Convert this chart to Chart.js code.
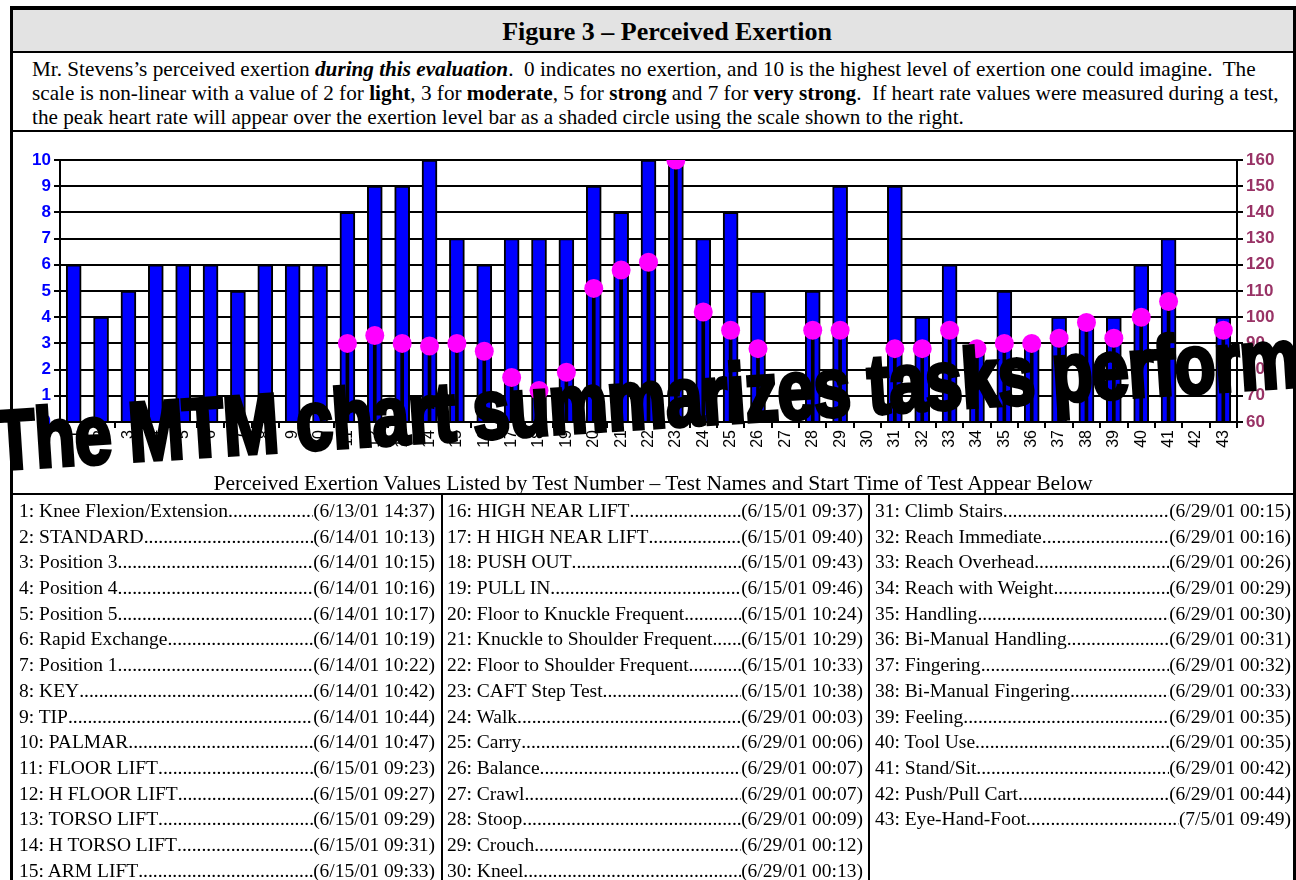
<!DOCTYPE html>
<html>
<head>
<meta charset="utf-8">
<script src="https://cdn.jsdelivr.net/npm/chart.js@4.4.0/dist/chart.umd.min.js"></script>
<style>
  html, body { margin: 0; padding: 0; background: #fff; }
  body { width: 1296px; height: 880px; overflow: hidden; position: relative; font-family: "Liberation Serif", "Times New Roman", serif; }
  #frame { position: absolute; left: 10px; top: 6px; width: 1280px; height: 900px;
           border-left: 3px solid #000; border-right: 3px solid #000; border-top: 4px solid #000; }
  #title { position: absolute; left: 0; top: 0; width: 1280px; height: 43px; background: #e3e3e3;
           border-bottom: 2px solid #000; text-align: center; font-weight: bold; font-size: 26px; line-height: 43px;
           padding-left: 28px; box-sizing: border-box; }
  #desc { position: absolute; left: 0; top: 45px; width: 1280px; height: 77px; border-bottom: 2px solid #000;
          font-size: 21.2px; line-height: 24px; padding-left: 19px; box-sizing: border-box; padding-top: 2px; white-space: nowrap; }
  #desc b { font-family: "Liberation Serif", "Times New Roman", serif; }
  #chartBox { position: absolute; left: 0; top: 124px; width: 1280px; height: 340px; }
  #xTitle { position: absolute; left: 0; top: 461px; width: 1280px; text-align: center; font-size: 21.6px; line-height: 24px; }
  #table { position: absolute; left: 0; top: 483px; width: 1280px; height: 420px; border-top: 2px solid #000; }
  .col { position: absolute; top: 3px; font-size: 19.5px; }
  .row { display: flex; height: 25.7px; line-height: 25.7px; white-space: nowrap; }
  .nm { flex: none; }
  .dots { flex: 1; overflow: hidden; white-space: nowrap; }
  .dt { flex: none; }
  .vline { position: absolute; top: 0; width: 2px; height: 420px; background: #000; }
  #stamp { position: absolute; left: -8px; top: 399px; font-family: "Liberation Sans", Arial, sans-serif;
           font-weight: bold; font-size: 84px; line-height: 1; white-space: nowrap; color: #000;
           -webkit-text-stroke: 4px #000; letter-spacing: -1px;
           transform: rotate(-3.67deg) scaleX(0.795); transform-origin: 0 0; pointer-events: none; z-index: 10; }
</style>
</head>
<body>
<div id="frame">
  <div id="title">Figure 3 – Perceived Exertion</div>
  <div id="desc">Mr. Stevens’s perceived exertion <b><i>during this evaluation</i></b>.&nbsp; 0 indicates no exertion, and 10 is the highest level of exertion one could imagine.&nbsp; The<br>scale is non-linear with a value of 2 for <b>light</b>, 3 for <b>moderate</b>, 5 for <b>strong</b> and 7 for <b>very strong</b>.&nbsp; If heart rate values were measured during a test,<br>the peak heart rate will appear over the exertion level bar as a shaded circle using the scale shown to the right.</div>
  <div id="chartBox"><canvas id="myChart"></canvas></div>
  <div id="xTitle">Perceived Exertion Values Listed by Test Number – Test Names and Start Time of Test Appear Below</div>
  <div id="table">
    <div class="vline" style="left:428px"></div>
    <div class="vline" style="left:855px"></div>
  </div>
</div>
<div id="stamp">The MTM chart summarizes tasks perform</div>

<script>
var testNumbers = ["1","2","3","4","5","6","7","8","9","10","11","12","13","14","15","16","17","18","19","20","21","22",
  "23","24","25","26","27","28","29","30","31","32","33","34","35","36","37","38","39","40","41","42","43"];

// perceived exertion (left axis, 0-10)
var exertion = [6,4,5,6,6,6,5,6,6,6, 8,9,9,10,7,6,7,7,7,9, 8,10,10,7,8,5,0,5,9,0, 9,4,6,3,5,3,4,4,4,6, 7,0,4];

// peak heart rate (right axis, 60-160)
var heartRate = [null,null,null,null,null,null,null,null,null,null,
  90,93,90,89,90,87,77,72,79,111, 118,121,160,102,95,88,null,95,95,null,
  88,88,95,88,90,90,92,98,92,100, 106,null,95];

var testNames = ["Knee Flexion/Extension","STANDARD","Position 3","Position 4","Position 5","Rapid Exchange","Position 1",
  "KEY","TIP","PALMAR","FLOOR LIFT","H FLOOR LIFT","TORSO LIFT","H TORSO LIFT","ARM LIFT",
  "HIGH NEAR LIFT","H HIGH NEAR LIFT","PUSH OUT","PULL IN","Floor to Knuckle Frequent","Knuckle to Shoulder Frequent",
  "Floor to Shoulder Frequent","CAFT Step Test","Walk","Carry","Balance","Crawl","Stoop","Crouch","Kneel",
  "Climb Stairs","Reach Immediate","Reach Overhead","Reach with Weight","Handling","Bi-Manual Handling","Fingering",
  "Bi-Manual Fingering","Feeling","Tool Use","Stand/Sit","Push/Pull Cart","Eye-Hand-Foot"];

var testTimes = ["6/13/01 14:37","6/14/01 10:13","6/14/01 10:15","6/14/01 10:16","6/14/01 10:17","6/14/01 10:19","6/14/01 10:22",
  "6/14/01 10:42","6/14/01 10:44","6/14/01 10:47","6/15/01 09:23","6/15/01 09:27","6/15/01 09:29","6/15/01 09:31","6/15/01 09:33",
  "6/15/01 09:37","6/15/01 09:40","6/15/01 09:43","6/15/01 09:46","6/15/01 10:24","6/15/01 10:29","6/15/01 10:33","6/15/01 10:38",
  "6/29/01 00:03","6/29/01 00:06","6/29/01 00:07","6/29/01 00:07","6/29/01 00:09","6/29/01 00:12","6/29/01 00:13",
  "6/29/01 00:15","6/29/01 00:16","6/29/01 00:26","6/29/01 00:29","6/29/01 00:30","6/29/01 00:31","6/29/01 00:32",
  "6/29/01 00:33","6/29/01 00:35","6/29/01 00:35","6/29/01 00:42","6/29/01 00:44","7/5/01 09:49"];

// build the test list table (3 columns x 15 rows)
var table = document.getElementById('table');
var colX = [6, 434, 862];
var colW = [416, 416, 416];
var dots = new Array(300).join('.');
for (var c = 0; c < 3; c++) {
  var col = document.createElement('div');
  col.className = 'col';
  col.style.left = colX[c] + 'px';
  col.style.width = colW[c] + 'px';
  for (var r = 0; r < 15; r++) {
    var i = c * 15 + r;
    if (i >= testNames.length) break;
    var row = document.createElement('div');
    row.className = 'row';
    row.innerHTML = '<span class="nm">' + (i + 1) + ': ' + testNames[i] + '</span><span class="dots">' + dots +
      '</span><span class="dt">' + (c == 0 ? ' ' : '') + '(' + testTimes[i] + ')</span>';
    col.appendChild(row);
  }
  table.appendChild(col);
}

var ctx = document.getElementById('myChart').getContext('2d');
var chart = new Chart(ctx, {
    type: 'bar',
    data: {
        labels: testNumbers,
        datasets: [{
            type: 'line',
            label: 'Peak heart rate',
            data: heartRate,
            yAxisID: 'y2',
            showLine: false,
            pointRadius: 9.5,
            pointHoverRadius: 9.5,
            pointBackgroundColor: '#ff00ff',
            pointBorderWidth: 0,
            order: 0
        }, {
            label: 'Heart rate stem',
            data: heartRate,
            yAxisID: 'y2',
            backgroundColor: '#000',
            barThickness: 3,
            grouped: false,
            order: 1
        }, {
            label: 'Perceived exertion',
            data: exertion,
            yAxisID: 'y',
            backgroundColor: '#0000ff',
            borderColor: '#000',
            borderWidth: 2,
            borderSkipped: 'start',
            barThickness: 15,
            grouped: false,
            order: 2
        }]
    },
    options: {
        responsive: true,
        maintainAspectRatio: false,
        animation: false,
        layout: { padding: { top: 26, left: 0, right: 0, bottom: 0 } },
        plugins: { legend: { display: false }, tooltip: { enabled: false } },
        scales: {
            x: {
                grid: { drawOnChartArea: false, drawTicks: true, tickLength: 6, color: '#000', lineWidth: 2 },
                border: { color: '#000', width: 2 },
                ticks: { maxRotation: 90, minRotation: 90, autoSkip: false, padding: 2, color: '#000',
                         font: { family: 'Liberation Sans', size: 16 } },
                afterFit: function(scale) { scale.height = 52; }
            },
            y: {
                position: 'left',
                min: 0, max: 10,
                ticks: { stepSize: 1, color: '#0000ff', padding: 3, font: { family: 'Liberation Sans', size: 17, weight: 'bold' } },
                grid: { color: '#000', lineWidth: 2, tickLength: 6 },
                border: { color: '#000', width: 2 },
                afterFit: function(scale) { scale.width = 47; }
            },
            y2: {
                position: 'right',
                min: 60, max: 160,
                ticks: { stepSize: 10, color: '#993366', padding: 3, font: { family: 'Liberation Sans', size: 17, weight: 'bold' } },
                grid: { drawOnChartArea: false, color: '#000', lineWidth: 2, tickLength: 6 },
                border: { color: '#000', width: 2 },
                afterFit: function(scale) { scale.width = 56; }
            }
        }
    }
});
</script>
</body>
</html>
